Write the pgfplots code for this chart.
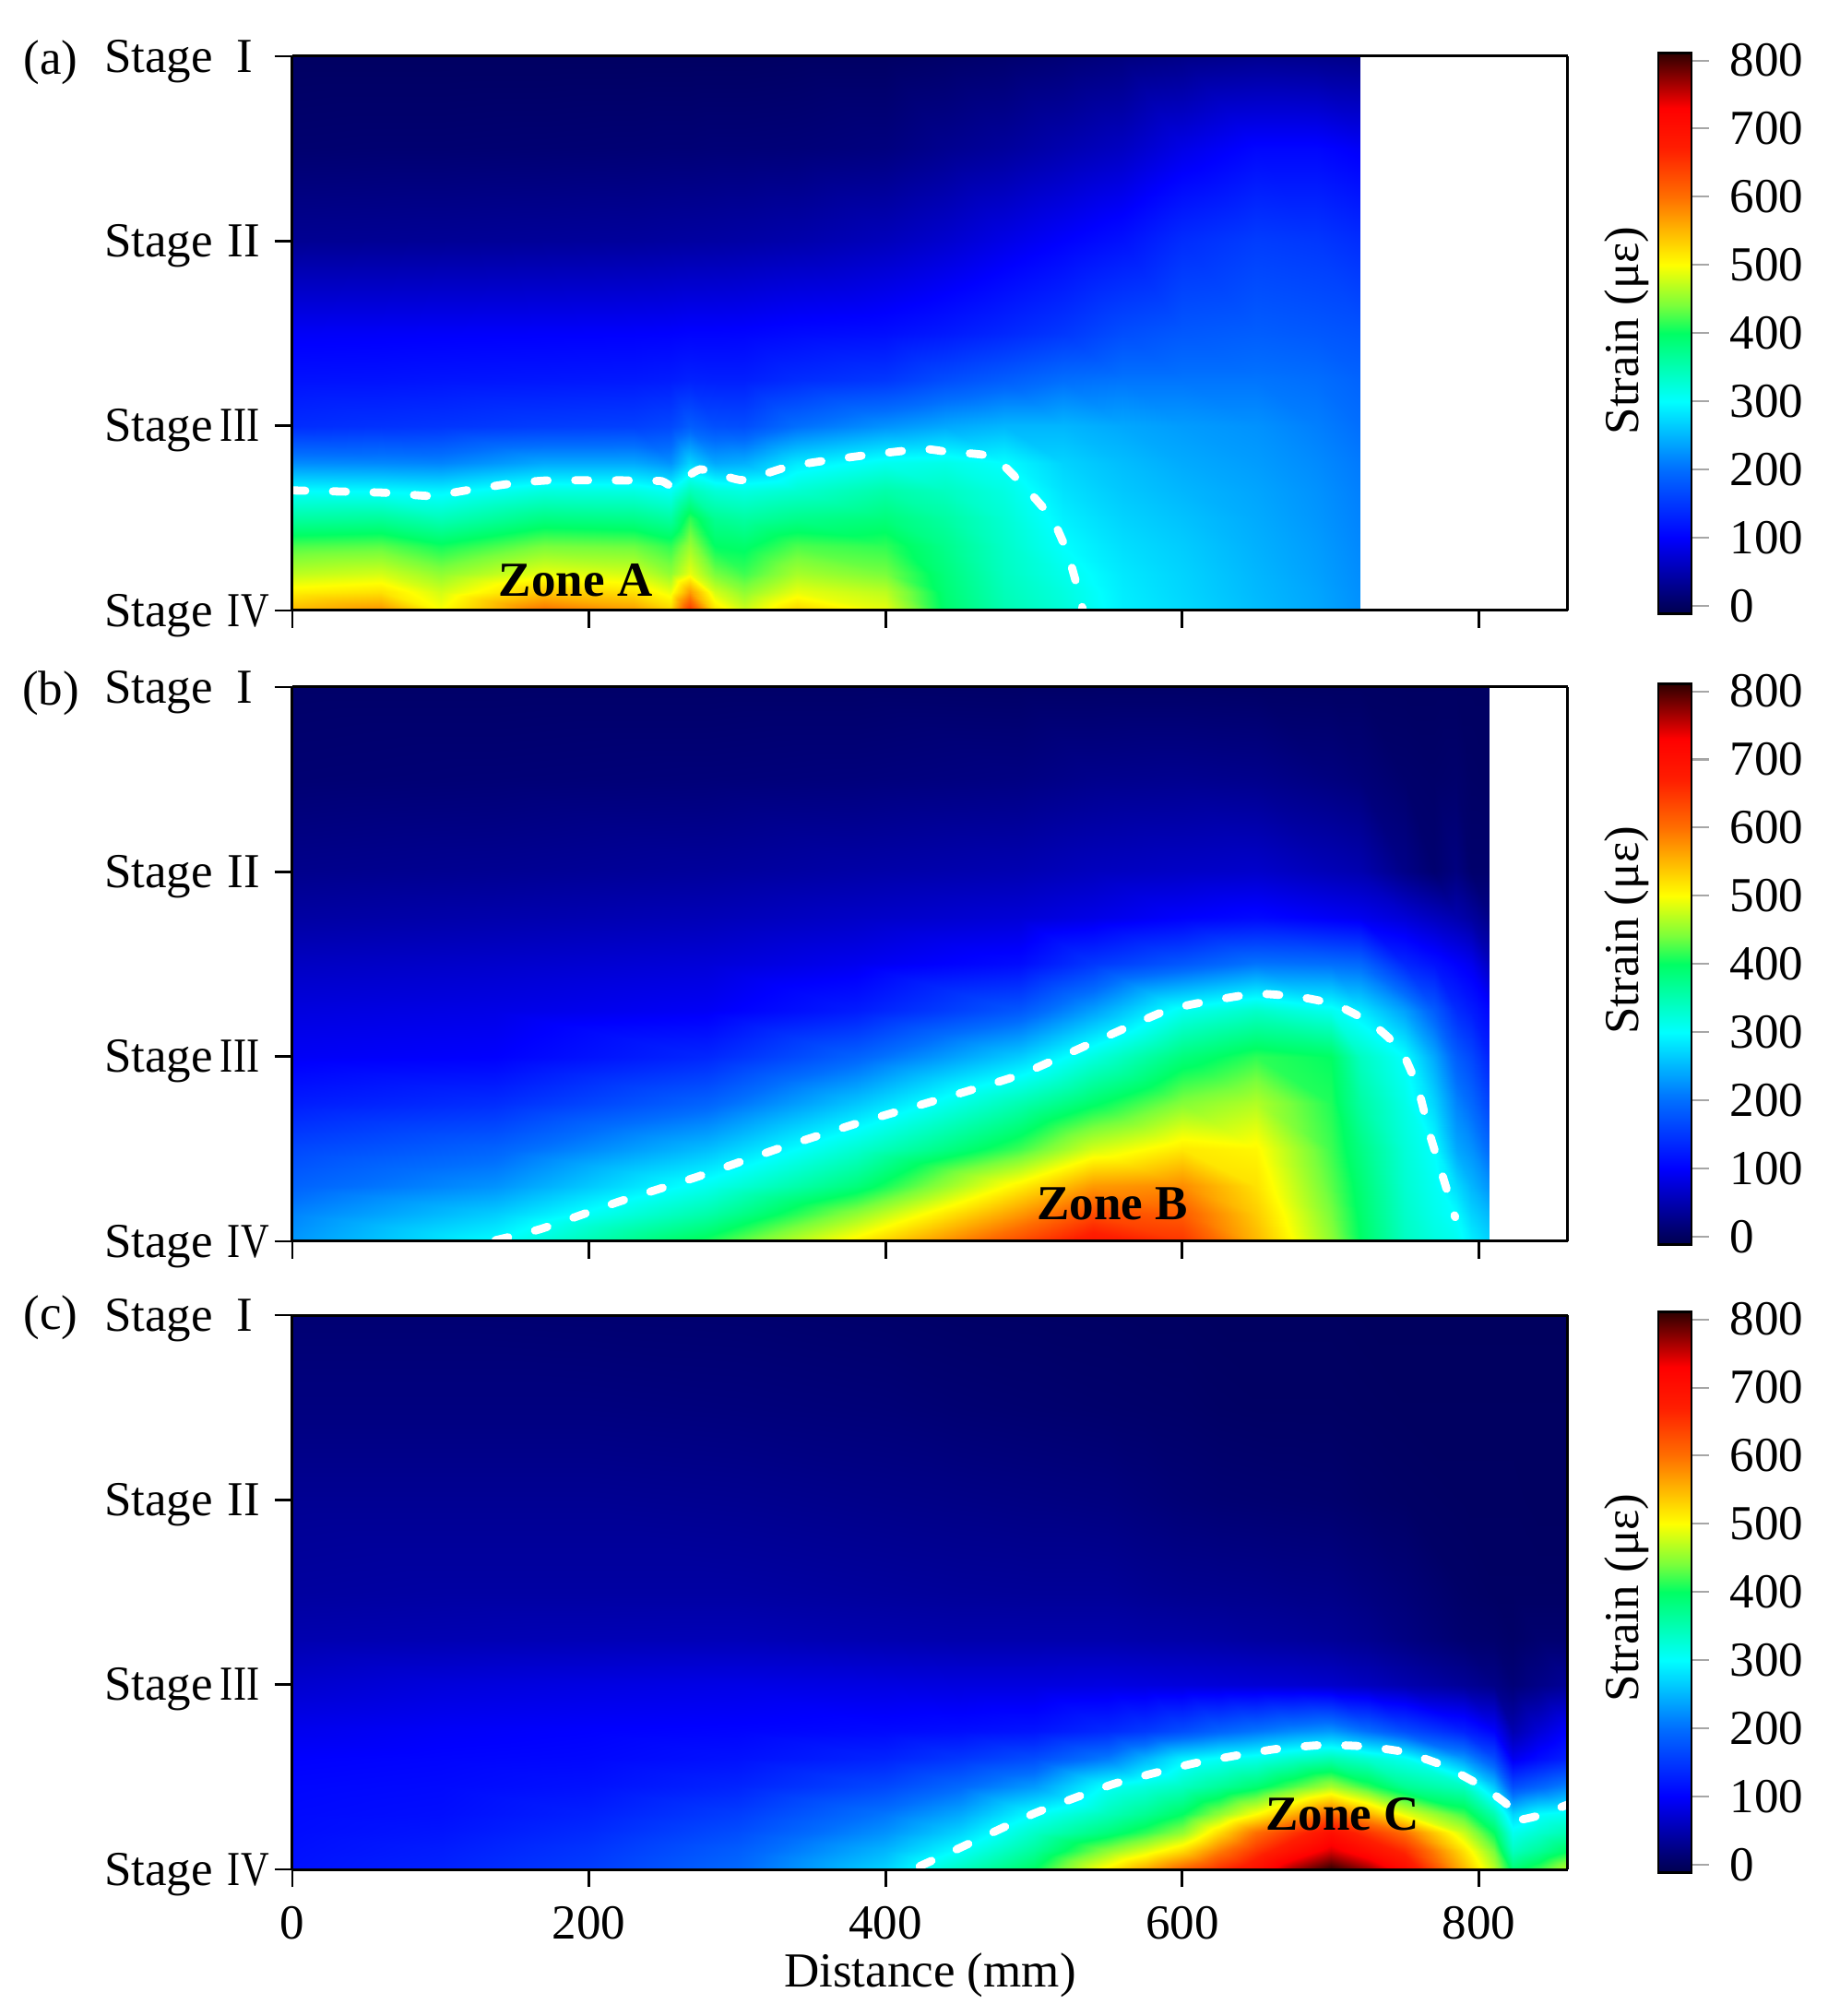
\documentclass[border=0pt]{standalone}
\usepackage{fontspec}
\usepackage{graphicx}
\usepackage{pgfplots}
\pgfplotsset{compat=1.18}
\setmainfont{Liberation Serif}

\tikzset{zone/.style={font=\fontsize{13.25}{15}\selectfont\bfseries,inner sep=0pt}}

% picture is laid out in reference pixels, 1 px = 0.25pt
\newcommand{\stage}[2]{\makebox[45pt][l]{Stage\hspace{#1}#2}}
\pgfplotsset{
  /pgf/number format/assume math mode=true,
  panel/.style={
    scale only axis,
    width=345.75pt,
    height=150.25pt,
    anchor=south west,
    view={0}{90},
    axis on top,
    clip=true,
    xmin=0, xmax=860,
    ymin=0, ymax=3,
    ztick=\empty,
    xtick={0,200,400,600,800},
    ytick={0,1,2,3},
    yticklabels={\stage{4pt}{\scalebox{.8}[1]{IV}},\stage{2pt}{\scalebox{.8}[1]{III}},\stage{4pt}{II},\stage{6.5pt}{I}},
    yticklabel style={inner sep=1pt,yshift=-1.3pt},
    xticklabel style={inner sep=2pt,yshift=-3pt},
    xtick pos=bottom,
    ytick pos=left,
    tick align=outside,
    major tick length=4.75pt,
    tick style={black,line width=0.7pt},
    axis line style={line width=0.75pt},
    tick label style={font=\fontsize{13.25}{15}\selectfont},
    label style={font=\fontsize{13.25}{15}\selectfont},
    colormap={strain}{
      rgb255(0)=(0,0,80) rgb255(11)=(0,0,95) rgb255(111)=(0,0,255)
      rgb255(211)=(0,110,255) rgb255(311)=(0,255,255) rgb255(411)=(0,255,100)
      rgb255(451)=(120,255,60) rgb255(511)=(255,255,0) rgb255(611)=(255,110,0)
      rgb255(681)=(255,30,0) rgb255(741)=(255,0,0) rgb255(822)=(45,0,0)
    },
    point meta min=-11,
    point meta max=811,
    colorbar,
    colorbar style={
      at={(1.0709,1.006)},
      anchor=north west,
      width=9pt,
      height=152pt,
      xtick=\empty,
      ytick={0,100,200,300,400,500,600,700,800},
      yticklabel pos=right,
      ytick pos=right,
      tick align=outside,
      major tick length=4.75pt,
      tick style={gray!70,line width=0.5pt},
      axis line style={line width=0.6pt},
      tick label style={font=\fontsize{13.25}{15}\selectfont},
      yticklabel style={inner sep=1pt,xshift=4.5pt},
      ylabel={Strain (με)},
      ylabel style={at={(axis description cs:-0.94,0.505)},anchor=center,rotate=0,font=\fontsize{13.25}{15}\selectfont},
    },
  },
  field/.style={surf,shader=interp,mesh/ordering=y varies},
  contourline/.style={white,line width=2.2pt,line cap=round,dash pattern=on 3.5pt off 7.5pt,smooth,tension=0.3},
}

\begin{document}
\begin{tikzpicture}
\useasboundingbox (0,0) rectangle (498.5pt,546.5pt);

% (a)
\begin{axis}[panel,at={(79.25pt,381pt)},xticklabels={}]
\addplot3[field,mesh/rows=13,mesh/cols=19] coordinates {
(0,0,550) (0,.1,510) (0,.2,470) (0,.35,425) (0,.5,360) (0,.65,300) (0,.8,220) (0,1,140) (0,1.25,115) (0,1.5,95) (0,2,32) (0,2.5,10) (0,3,2)
(60,0,575) (60,.1,520) (60,.2,480) (60,.35,430) (60,.5,365) (60,.65,298) (60,.8,218) (60,1,145) (60,1.25,116) (60,1.5,96) (60,2,33) (60,2.5,11) (60,3,2)
(100,0,500) (100,.1,480) (100,.2,450) (100,.35,405) (100,.5,345) (100,.65,292) (100,.8,215) (100,1,148) (100,1.25,118) (100,1.5,97) (100,2,34) (100,2.5,11) (100,3,2)
(170,0,600) (170,.1,540) (170,.2,490) (170,.35,440) (170,.5,380) (170,.65,320) (170,.8,240) (170,1,155) (170,1.25,120) (170,1.5,98) (170,2,36) (170,2.5,12) (170,3,2)
(230,0,570) (230,.1,520) (230,.2,480) (230,.35,435) (230,.5,375) (230,.65,318) (230,.8,240) (230,1,158) (230,1.25,122) (230,1.5,99) (230,2,38) (230,2.5,13) (230,3,2)
(255,0,530) (255,.1,490) (255,.2,450) (255,.35,415) (255,.5,360) (255,.65,305) (255,.8,225) (255,1,165) (255,1.25,125) (255,1.5,100) (255,2,40) (255,2.5,14) (255,3,2)
(268,0,650) (268,.1,570) (268,.2,490) (268,.35,455) (268,.5,415) (268,.65,345) (268,.8,270) (268,1,185) (268,1.25,130) (268,1.5,102) (268,2,41) (268,2.5,14) (268,3,2)
(285,0,520) (285,.1,480) (285,.2,440) (285,.35,400) (285,.5,370) (285,.65,325) (285,.8,240) (285,1,172) (285,1.25,128) (285,1.5,102) (285,2,42) (285,2.5,15) (285,3,2)
(305,0,480) (305,.1,450) (305,.2,420) (305,.35,395) (305,.5,360) (305,.65,318) (305,.8,245) (305,1,170) (305,1.25,128) (305,1.5,103) (305,2,44) (305,2.5,15) (305,3,2)
(340,0,530) (340,.1,490) (340,.2,460) (340,.35,425) (340,.5,375) (340,.65,330) (340,.8,285) (340,1,200) (340,1.25,140) (340,1.5,108) (340,2,48) (340,2.5,16) (340,3,3)
(400,0,490) (400,.1,470) (400,.2,440) (400,.35,415) (400,.5,385) (400,.65,355) (400,.8,310) (400,1,225) (400,1.25,150) (400,1.5,112) (400,2,58) (400,2.5,20) (400,3,3)
(440,0,395) (440,.1,390) (440,.2,385) (440,.35,375) (440,.5,360) (440,.65,340) (440,.8,315) (440,1,240) (440,1.25,170) (440,1.5,122) (440,2,70) (440,2.5,30) (440,3,6)
(480,0,350) (480,.1,345) (480,.2,340) (480,.35,335) (480,.5,328) (480,.65,318) (480,.8,300) (480,1,250) (480,1.25,185) (480,1.5,135) (480,2,85) (480,2.5,38) (480,3,9)
(520,0,325) (520,.1,320) (520,.2,312) (520,.35,300) (520,.5,290) (520,.65,280) (520,.8,270) (520,1,250) (520,1.25,200) (520,1.5,150) (520,2,100) (520,2.5,50) (520,3,14)
(560,0,290) (560,.1,288) (560,.2,285) (560,.35,278) (560,.5,270) (560,.65,262) (560,.8,255) (560,1,240) (560,1.25,205) (560,1.5,170) (560,2,115) (560,2.5,62) (560,3,20)
(600,0,275) (600,.1,272) (600,.2,270) (600,.35,265) (600,.5,258) (600,.65,250) (600,.8,242) (600,1,232) (600,1.25,205) (600,1.5,180) (600,2,140) (600,2.5,85) (600,3,25)
(650,0,255) (650,.1,252) (650,.2,250) (650,.35,246) (650,.5,242) (650,.65,238) (650,.8,232) (650,1,225) (650,1.25,205) (650,1.5,185) (650,2,155) (650,2.5,105) (650,3,30)
(690,0,240) (690,.1,238) (690,.2,235) (690,.35,232) (690,.5,228) (690,.65,225) (690,.8,220) (690,1,212) (690,1.25,200) (690,1.5,180) (690,2,150) (690,2.5,105) (690,3,28)
(720,0,225) (720,.1,223) (720,.2,221) (720,.35,218) (720,.5,215) (720,.65,212) (720,.8,208) (720,1,200) (720,1.25,190) (720,1.5,175) (720,2,140) (720,2.5,95) (720,3,25)
};
\addplot[contourline] coordinates {
(0,.65) (61,.638) (93,.62) (117,.65) (144,.683) (172,.704) (230,.704) (249,.70) (257,.672)
(275,.764) (303,.706) (335,.78) (362,.814) (390,.844) (425,.874) (441,.86) (472,.833)
(492,.684) (512,.50) (522.7,.31) (531,.076) (533,0)
};
\node[zone] at (axis cs:191,.165) {Zone A};
\end{axis}

% (b)
\begin{axis}[panel,at={(79.25pt,210pt)},xticklabels={},colorbar style={ylabel style={at={(axis description cs:-0.94,0.56)}}}]
\addplot3[field,mesh/rows=12,mesh/cols=15] coordinates {
(0,0,230) (0,.15,215) (0,.3,190) (0,.5,165) (0,.75,125) (0,1,95) (0,1.25,80) (0,1.5,62) (0,1.75,42) (0,2,28) (0,2.5,12) (0,3,6)
(137,0,300) (137,.15,265) (137,.3,225) (137,.5,190) (137,.75,140) (137,1,100) (137,1.25,85) (137,1.5,68) (137,1.75,48) (137,2,32) (137,2.5,14) (137,3,6)
(280,0,410) (280,.15,355) (280,.3,310) (280,.5,255) (280,.75,190) (280,1,135) (280,1.25,95) (280,1.5,76) (280,1.75,55) (280,2,38) (280,2.5,16) (280,3,6)
(380,0,510) (380,.15,450) (380,.3,385) (380,.5,330) (380,.75,260) (380,1,190) (380,1.25,125) (380,1.5,90) (380,1.75,65) (380,2,45) (380,2.5,18) (380,3,6)
(490,0,630) (490,.15,570) (490,.3,510) (490,.5,420) (490,.75,350) (490,1,265) (490,1.25,180) (490,1.5,110) (490,1.75,75) (490,2,52) (490,2.5,22) (490,3,5)
(540,0,690) (540,.15,630) (540,.3,570) (540,.5,480) (540,.75,395) (540,1,320) (540,1.25,235) (540,1.5,150) (540,1.75,85) (540,2,60) (540,2.5,28) (540,3,5)
(600,0,650) (600,.15,615) (600,.3,580) (600,.5,515) (600,.75,445) (600,1,385) (600,1.25,310) (600,1.5,180) (600,1.75,100) (600,2,65) (600,2.5,30) (600,3,5)
(650,0,550) (650,.15,535) (650,.3,520) (650,.5,505) (650,.75,465) (650,1,415) (650,1.25,335) (650,1.5,205) (650,1.75,108) (650,2,68) (650,2.5,28) (650,3,4)
(700,0,450) (700,.15,440) (700,.3,430) (700,.5,420) (700,.75,410) (700,1,400) (700,1.25,310) (700,1.5,200) (700,1.75,95) (700,2,55) (700,2.5,20) (700,3,3)
(720,0,400) (720,.15,395) (720,.3,390) (720,.5,380) (720,.75,360) (720,1,340) (720,1.25,285) (720,1.5,195) (720,1.75,90) (720,2,50) (720,2.5,16) (720,3,3)
(750,0,340) (750,.15,335) (750,.3,330) (750,.5,325) (750,.75,315) (750,1,300) (750,1.25,235) (750,1.5,135) (750,1.75,75) (750,2,25) (750,2.5,8) (750,3,2)
(770,0,320) (770,.15,312) (770,.3,307) (770,.5,300) (770,.75,270) (770,1,240) (770,1.25,185) (770,1.5,115) (770,1.75,60) (770,2,10) (770,2.5,6) (770,3,2)
(785,0,310) (785,.15,298) (785,.3,275) (785,.5,240) (785,.75,215) (785,1,185) (785,1.25,140) (785,1.5,100) (785,1.75,50) (785,2,20) (785,2.5,8) (785,3,2)
(795,0,290) (795,.15,270) (795,.3,250) (795,.5,225) (795,.75,195) (795,1,165) (795,1.25,125) (795,1.5,90) (795,1.75,40) (795,2,8) (795,2.5,4) (795,3,2)
(807,0,270) (807,.15,250) (807,.3,225) (807,.5,195) (807,.75,160) (807,1,130) (807,1.25,105) (807,1.5,60) (807,1.75,25) (807,2,8) (807,2.5,3) (807,3,2)
};
\addplot[contourline] coordinates {
(137,.006) (168,.068) (220,.214) (273,.349) (328.5,.504) (381,.639) (434,.763) (489.5,.898)
(539.5,1.075) (589.5,1.25) (620,1.303) (650,1.34) (678,1.324) (703,1.282) (728,1.178)
(747.6,1.033) (759,.826) (767,.577) (775,.369) (784,.131)
};
\node[zone] at (axis cs:553,.205) {Zone B};
\end{axis}

% (c)
\begin{axis}[panel,at={(79.25pt,39.75pt)},xlabel={Distance (mm)},xlabel style={yshift=1.8pt},colorbar style={ylabel style={at={(axis description cs:-0.94,0.49)}}}]
\addplot3[field,mesh/rows=13,mesh/cols=21] coordinates {
(0,0,115) (0,.1,113) (0,.2,110) (0,.3,108) (0,.45,105) (0,.6,100) (0,.75,90) (0,1,70) (0,1.25,50) (0,1.5,40) (0,2,32) (0,2.5,20) (0,3,12)
(100,0,130) (100,.1,125) (100,.2,118) (100,.3,112) (100,.45,108) (100,.6,103) (100,.75,96) (100,1,78) (100,1.25,52) (100,1.5,42) (100,2,32) (100,2.5,20) (100,3,12)
(200,0,155) (200,.1,148) (200,.2,138) (200,.3,128) (200,.45,115) (200,.6,106) (200,.75,100) (200,1,82) (200,1.25,54) (200,1.5,42) (200,2,32) (200,2.5,20) (200,3,11)
(300,0,195) (300,.1,185) (300,.2,170) (300,.3,155) (300,.45,132) (300,.6,115) (300,.75,103) (300,1,85) (300,1.25,55) (300,1.5,42) (300,2,30) (300,2.5,18) (300,3,10)
(400,0,270) (400,.1,250) (400,.2,225) (400,.3,205) (400,.45,165) (400,.6,132) (400,.75,108) (400,1,82) (400,1.25,50) (400,1.5,38) (400,2,26) (400,2.5,15) (400,3,7)
(450,0,340) (450,.1,303) (450,.2,270) (450,.3,240) (450,.45,195) (450,.6,150) (450,.75,112) (450,1,80) (450,1.25,48) (450,1.5,36) (450,2,24) (450,2.5,12) (450,3,5)
(500,0,400) (500,.1,365) (500,.2,335) (500,.3,300) (500,.45,230) (500,.6,170) (500,.75,118) (500,1,80) (500,1.25,48) (500,1.5,35) (500,2,22) (500,2.5,10) (500,3,4)
(550,0,510) (550,.1,450) (550,.2,385) (550,.3,345) (550,.45,305) (550,.6,210) (550,.75,138) (550,1,82) (550,1.25,48) (550,1.5,35) (550,2,20) (550,2.5,8) (550,3,3)
(575,0,560) (575,.1,485) (575,.2,415) (575,.3,370) (575,.45,322) (575,.6,250) (575,.75,152) (575,1,80) (575,1.25,46) (575,1.5,32) (575,2,17) (575,2.5,7) (575,3,2)
(600,0,610) (600,.1,525) (600,.2,450) (600,.3,400) (600,.45,340) (600,.6,290) (600,.75,170) (600,1,78) (600,1.25,45) (600,1.5,30) (600,2,14) (600,2.5,6) (600,3,2)
(625,0,655) (625,.1,590) (625,.2,525) (625,.3,450) (625,.45,365) (625,.6,305) (625,.75,190) (625,1,76) (625,1.25,43) (625,1.5,29) (625,2,12) (625,2.5,4) (625,3,1)
(650,0,700) (650,.1,650) (650,.2,600) (650,.3,500) (650,.45,390) (650,.6,315) (650,.75,205) (650,1,74) (650,1.25,40) (650,1.5,28) (650,2,11) (650,2.5,3) (650,3,1)
(675,0,765) (675,.1,700) (675,.2,650) (675,.3,555) (675,.45,425) (675,.6,335) (675,.75,220) (675,1,72) (675,1.25,38) (675,1.5,26) (675,2,10) (675,2.5,3) (675,3,1)
(700,0,830) (700,.1,745) (700,.2,700) (700,.3,610) (700,.45,460) (700,.6,350) (700,.75,230) (700,1,68) (700,1.25,35) (700,1.5,25) (700,2,9) (700,2.5,3) (700,3,1)
(725,0,770) (725,.1,705) (725,.2,650) (725,.3,555) (725,.45,415) (725,.6,330) (725,.75,200) (725,1,60) (725,1.25,30) (725,1.5,20) (725,2,6) (725,2.5,2) (725,3,0)
(750,0,710) (750,.1,660) (750,.2,600) (750,.3,490) (750,.45,370) (750,.6,310) (750,.75,170) (750,1,50) (750,1.25,22) (750,1.5,15) (750,2,4) (750,2.5,1) (750,3,0)
(790,0,550) (790,.1,520) (790,.2,475) (790,.3,420) (790,.45,340) (790,.6,230) (790,.75,130) (790,1,35) (790,1.25,10) (790,1.5,5) (790,2,2) (790,2.5,1) (790,3,0)
(810,0,470) (810,.1,440) (810,.2,400) (810,.3,350) (810,.45,260) (810,.6,170) (810,.75,100) (810,1,25) (810,1.25,8) (810,1.5,3) (810,2,2) (810,2.5,1) (810,3,0)
(823,0,390) (823,.1,340) (823,.2,310) (823,.3,270) (823,.45,170) (823,.6,90) (823,.75,50) (823,1,15) (823,1.25,5) (823,1.5,3) (823,2,2) (823,2.5,1) (823,3,0)
(840,0,420) (840,.1,365) (840,.2,330) (840,.3,300) (840,.45,190) (840,.6,110) (840,.75,75) (840,1,25) (840,1.25,10) (840,1.5,3) (840,2,1) (840,2.5,1) (840,3,0)
(860,0,470) (860,.1,400) (860,.2,350) (860,.3,310) (860,.45,215) (860,.6,130) (860,.75,100) (860,1,35) (860,1.25,10) (860,1.5,3) (860,2,1) (860,2.5,1) (860,3,0)
};
\addplot[contourline] coordinates {
(423,.017) (450,.116) (500,.302) (554,.463) (608,.574) (661,.649) (695,.673) (722,.666)
(749,.636) (776,.562) (802,.45) (819,.351) (823,.265) (840,.29) (860,.351)
};
\node[zone] at (axis cs:708,.30) {Zone C};
\end{axis}

\node[font=\fontsize{13.25}{15}\selectfont] at (13.8pt,529.6pt) {(a)};
\node[font=\fontsize{13.25}{15}\selectfont] at (13.8pt,358.6pt) {(b)};
\node[font=\fontsize{13.25}{15}\selectfont] at (13.8pt,189.3pt) {(c)};
\end{tikzpicture}
\end{document}
